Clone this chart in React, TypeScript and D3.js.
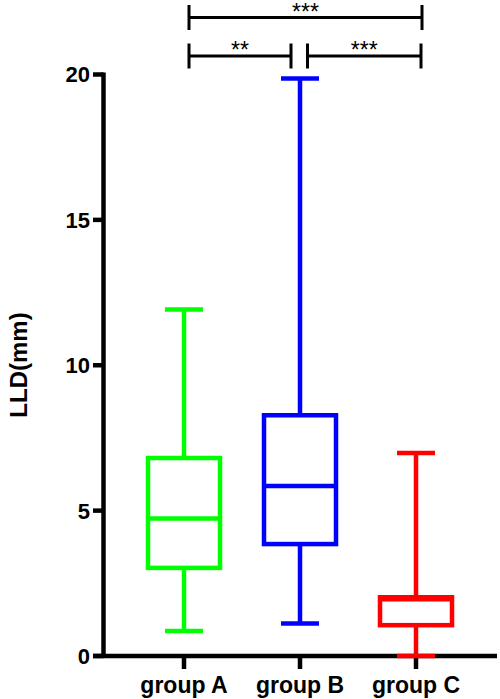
import React from "react";
import * as d3 from "d3";

const groups = ["group A", "group B", "group C"];
const mins = [0.86, 1.12, 0];
const q1s = [3.03, 3.85, 1.06];
const medians = [4.73, 5.85, 1.95];
const q3s = [6.81, 8.28, 2.02];
const maxs = [11.92, 19.86, 6.98];
const colors = ["#00ff00", "#0000ff", "#ff0000"];
const yTicks = [0, 5, 10, 15, 20];
const comparisons = [
  { from: "group A", to: "group C", label: "***", row: 0 },
  { from: "group A", to: "group B", label: "**", row: 1 },
  { from: "group B", to: "group C", label: "***", row: 1 },
];

const W = 500;
const H = 699;
const FONT = "'Liberation Sans', Arial, Helvetica, sans-serif";

export default function App() {
  const x = d3.scalePoint<string>().domain(groups).range([184, 416]);
  const y = d3.scaleLinear().domain([0, 20]).range([656, 74.5]);
  const axisX = 103.5;
  const boxW = 72;
  const capW = 38;
  const sw = 4.5;
  const rowY = [17.5, 56];

  return (
    <svg
      width={W}
      height={H}
      style={{ position: "absolute", left: 0, top: 0, background: "#fff" }}
      fontFamily={FONT}
    >
      {/* axes */}
      <g stroke="#000" strokeWidth={4.5}>
        <line x1={axisX} x2={axisX} y1={y(20) - 2} y2={y(0)} />
        {yTicks.map((t) => (
          <line key={t} x1={93} x2={axisX} y1={y(t)} y2={y(t)} />
        ))}
        <line x1={93} x2={497} y1={y(0)} y2={y(0)} />
        {groups.map((g) => (
          <line key={g} x1={x(g)!} x2={x(g)!} y1={y(0)} y2={669} />
        ))}
      </g>
      {yTicks.map((t) => (
        <text
          key={t}
          x={90}
          y={y(t)}
          dy="0.36em"
          textAnchor="end"
          fontSize={22}
          fontWeight="bold"
          fill="#000"
        >
          {t}
        </text>
      ))}
      {groups.map((g) => (
        <text
          key={g}
          x={x(g)!}
          y={693}
          textAnchor="middle"
          fontSize={23}
          fontWeight="bold"
          fill="#000"
        >
          {g}
        </text>
      ))}
      <text
        transform={`translate(27,365) rotate(-90)`}
        textAnchor="middle"
        fontSize={24}
        fontWeight="bold"
        fill="#000"
      >
        LLD(mm)
      </text>

      {/* boxes */}
      {groups.map((g, i) => {
        const cx = x(g)!;
        return (
          <g key={g} stroke={colors[i]} strokeWidth={sw} fill="none">
            <line x1={cx} x2={cx} y1={y(maxs[i])} y2={y(q3s[i])} />
            <line x1={cx} x2={cx} y1={y(q1s[i])} y2={y(mins[i])} />
            <line x1={cx - capW / 2} x2={cx + capW / 2} y1={y(maxs[i])} y2={y(maxs[i])} />
            <line x1={cx - capW / 2} x2={cx + capW / 2} y1={y(mins[i])} y2={y(mins[i])} />
            <rect
              x={cx - boxW / 2}
              y={y(q3s[i])}
              width={boxW}
              height={y(q1s[i]) - y(q3s[i])}
            />
            <line x1={cx - boxW / 2} x2={cx + boxW / 2} y1={y(medians[i])} y2={y(medians[i])} />
          </g>
        );
      })}

      {/* significance brackets */}
      {comparisons.map((c, i) => {
        let x1 = x(c.from)! + 5;
        let x2 = x(c.to)! + 6;
        if (c.row === 1 && c.to === "group B") x2 = x(c.to)! - 9;
        if (c.row === 1 && c.from === "group B") x1 = x(c.from)! + 7.5;
        if (c.row === 1 && c.to === "group C") x2 = x(c.to)! + 5;
        const yy = rowY[c.row];
        return (
          <g key={i}>
            <g stroke="#000" strokeWidth={3}>
              <line x1={x1} x2={x2} y1={yy} y2={yy} />
              <line x1={x1} x2={x1} y1={yy - 12.5} y2={yy + 12.5} />
              <line x1={x2} x2={x2} y1={yy - 12.5} y2={yy + 12.5} />
            </g>
            <text
              x={(x1 + x2) / 2}
              y={yy + 2}
              textAnchor="middle"
              fontSize={23}
              fill="#000"
            >
              {c.label}
            </text>
          </g>
        );
      })}
    </svg>
  );
}
